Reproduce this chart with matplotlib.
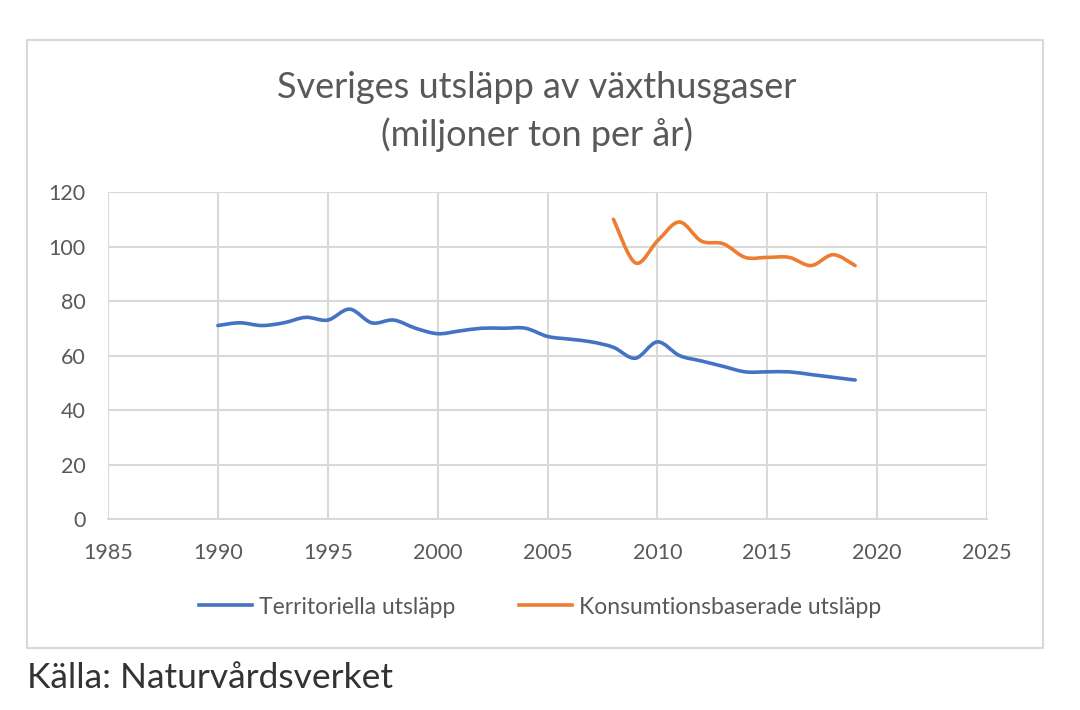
import matplotlib
matplotlib.use("Agg")
from matplotlib import pyplot as plt
from matplotlib.path import Path
from matplotlib.patches import PathPatch, Rectangle
from matplotlib.lines import Line2D
import numpy as np

# Sveriges utsläpp av växthusgaser, miljoner ton per år
years_terr = list(range(1990, 2020))
territoriella = [71, 72, 71, 72, 74, 73, 77, 72, 73, 70,
                 68, 69, 70, 70, 70, 67, 66, 65, 63, 59,
                 65, 60, 58, 56, 54, 54, 54, 53, 52, 51]
years_kons = list(range(2008, 2020))
konsumtion = [110, 94, 102, 109, 102, 101, 96, 96, 96, 93, 97, 93]

x_ticks = [1985, 1990, 1995, 2000, 2005, 2010, 2015, 2020, 2025]
y_ticks = [0, 20, 40, 60, 80, 100, 120]

blue = "#4472c4"
orange = "#ed7d31"
grid = "#d9d9d9"
text_col = "#595959"

plt.rcParams["font.family"] = ["Lato", "DejaVu Sans"]


def smooth_path(xs, ys, tension=6.0):
    # excel-ish smoothed line: catmull-rom control points as cubic bezier
    xs = np.asarray(xs, float)
    ys = np.asarray(ys, float)
    pts = np.column_stack([xs, ys])
    verts = [pts[0]]
    codes = [Path.MOVETO]
    n = len(pts)
    for i in range(n - 1):
        p0 = pts[i - 1] if i > 0 else pts[i]
        p1 = pts[i]
        p2 = pts[i + 1]
        p3 = pts[i + 2] if i + 2 < n else pts[i + 1]
        c1 = p1 + (p2 - p0) / tension
        c2 = p2 - (p3 - p1) / tension
        verts += [c1, c2, p2]
        codes += [Path.CURVE4] * 3
    return Path(verts, codes)


fig = plt.figure(figsize=(10.8, 7.1), dpi=100)
fig.patch.set_facecolor("white")

# chart frame
fig.patches.append(Rectangle((27 / 1080, 1 - 648 / 710), 1016 / 1080, 608 / 710,
                             transform=fig.transFigure, fill=False,
                             edgecolor=grid, linewidth=1.5))

ax = fig.add_axes([108 / 1080, 1 - 519 / 710, 879 / 1080, 327 / 710])
ax.set_xlim(1985, 2025)
ax.set_ylim(0, 120)
ax.set_xticks(x_ticks)
ax.set_yticks(y_ticks)
ax.grid(True, color=grid, linewidth=1.5)
ax.set_axisbelow(True)
for s in ["top", "right", "left"]:
    ax.spines[s].set_visible(False)
ax.spines["bottom"].set_color(grid)
ax.spines["bottom"].set_linewidth(1.5)
ax.tick_params(length=0, labelsize=15.5, colors=text_col)
ax.tick_params(axis="x", pad=17)
ax.tick_params(axis="y", pad=16)

for xs, ys, c in [(years_terr, territoriella, blue), (years_kons, konsumtion, orange)]:
    ax.add_patch(PathPatch(smooth_path(xs, ys), fill=False, edgecolor=c,
                           linewidth=2.6, capstyle="round", joinstyle="round"))

fig.text(537 / 1080, 1 - 88 / 710, "Sveriges utsläpp av växthusgaser",
         ha="center", va="center", fontsize=26, color=text_col)
fig.text(537 / 1080, 1 - 135 / 710, "(miljoner ton per år)",
         ha="center", va="center", fontsize=26, color=text_col)

handles = [Line2D([], [], color=blue, linewidth=2.6),
           Line2D([], [], color=orange, linewidth=2.6)]
fig.legend(handles, ["Territoriella utsläpp", "Konsumtionsbaserade utsläpp"],
           loc="center", bbox_to_anchor=(540 / 1080, 1 - 607 / 710), ncol=2,
           frameon=False, fontsize=16.5, labelcolor=text_col,
           handlelength=2.3, handletextpad=0.3, columnspacing=2.8)

fig.text(27 / 1080, 1 - 678 / 710, "Källa: Naturvårdsverket",
         ha="left", va="center", fontsize=25.5, color="#333333")

fig.savefig("out.png", dpi=100, facecolor="white")
